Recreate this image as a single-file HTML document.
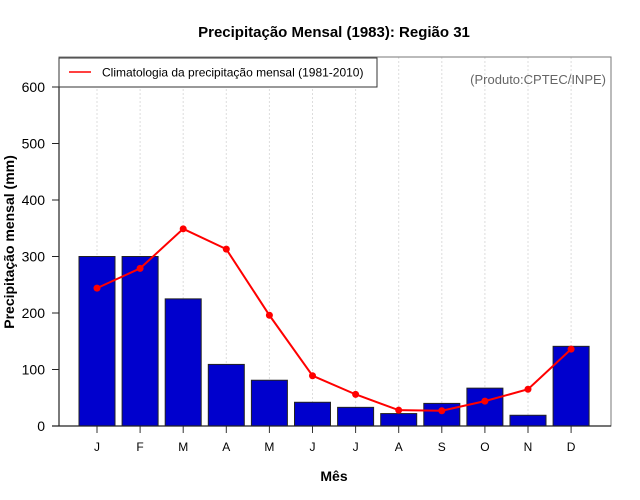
<!DOCTYPE html>
<html><head><meta charset="utf-8"><style>
body{margin:0;background:#fff;}
svg{display:block;font-family:"Liberation Sans",sans-serif;}
</style></head><body>
<svg id="chart" width="640" height="500">
<text x="334" y="37" text-anchor="middle" font-size="15" font-weight="bold">Precipitação Mensal (1983): Região 31</text>
<g id="grid"></g>
<rect x="59" y="57" width="552" height="369" fill="none" stroke="#777" stroke-width="1"/>
<g id="bars"></g>
<g id="line"></g>
<g id="axes"></g>
<text x="334" y="481" text-anchor="middle" font-size="14" font-weight="bold">Mês</text>
<text transform="translate(14,242) rotate(-90)" text-anchor="middle" font-size="14" font-weight="bold">Precipitação mensal (mm)</text>
<g>
<rect x="59" y="58" width="318" height="29" fill="#fff" stroke="#333"/>
<line x1="69" y1="72" x2="91" y2="72" stroke="#f00" stroke-width="1.5"/>
<text x="102" y="76.5" font-size="12">Climatologia da precipitação mensal (1981-2010)</text>
</g>
<text x="606" y="84" text-anchor="end" font-size="13" fill="#666">(Produto:CPTEC/INPE)</text>
</svg>
<script>
const months = ["J","F","M","A","M","J","J","A","S","O","N","D"];
const obs1983 = [300,300,225,109,81,42,33,22,40,67,19,141];
const climatology = [244,279,349,313,196,89,56,28,27,44,65,136];
const yTicks = [0,100,200,300,400,500,600];

const NS = "http://www.w3.org/2000/svg";
const x0 = 97, dx = 43.1, barW = 36;
const xs = i => x0 + i*dx;
const ys = v => 426 - v*0.565;
function mk(tag, attrs, parent){const e=document.createElementNS(NS,tag);for(const k in attrs)e.setAttribute(k,attrs[k]);parent.appendChild(e);return e;}
const grid=document.getElementById('grid'), bars=document.getElementById('bars'), line=document.getElementById('line'), axes=document.getElementById('axes');

months.forEach((m,i)=>{
  const g=mk('line',{x1:xs(i),x2:xs(i),y1:57,y2:426,stroke:'#ddd','stroke-dasharray':'2,2'},grid);
  
  
  const r=mk('rect',{x:xs(i)-barW/2,y:ys(obs1983[i]),width:barW,height:ys(0)-ys(obs1983[i]),fill:'#0000cd',stroke:'#222','stroke-width':1},bars);
  
  
  const t=mk('line',{x1:xs(i),x2:xs(i),y1:426,y2:433,stroke:'#333'},axes);
  
  
  const l=mk('text',{x:xs(i),y:451,'text-anchor':'middle','font-size':12},axes);
  l.textContent=m;
  
  
});
const pts=climatology.map((v,i)=>xs(i)+','+ys(v)).join(' ');
const pl=mk('polyline',{points:pts,fill:'none',stroke:'#f00','stroke-width':2},line);


climatology.forEach((v,i)=>{
  const c=mk('circle',{cx:xs(i),cy:ys(v),r:3.5,fill:'#f00'},line);
  
  
});
const ax=mk('line',{x1:59,x2:59,y1:ys(600),y2:426,stroke:'#222','stroke-width':1.2},axes);


const bx=mk('line',{x1:52,x2:611,y1:426,y2:426,stroke:'#222','stroke-width':1.2},axes);


yTicks.forEach(v=>{
  const t=mk('line',{x1:52,x2:59,y1:ys(v),y2:ys(v),stroke:'#222'},axes);
  
  
  const l=mk('text',{x:45,y:ys(v)+5,'text-anchor':'end','font-size':14},axes);
  l.textContent=v;
  
  
});
</script>
</body></html>
